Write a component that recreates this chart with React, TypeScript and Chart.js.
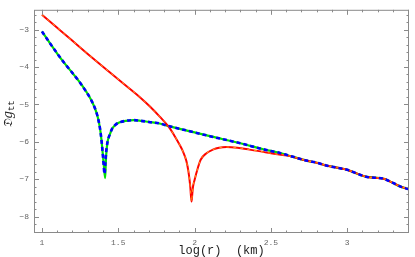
import React, { useEffect, useRef } from "react";
import { Chart, registerables } from "chart.js";

Chart.register(...registerables);

const blueX = [1.0, 1.05, 1.1, 1.15, 1.2, 1.25, 1.29, 1.32, 1.346, 1.365, 1.38, 1.39, 1.398, 1.404, 1.41, 1.415, 1.42, 1.43, 1.445, 1.46, 1.48, 1.51, 1.55, 1.6, 1.65, 1.7, 1.77, 1.83, 1.95, 2.1, 2.3, 2.45, 2.56, 2.61, 2.74, 2.8, 2.87, 2.93, 3.0, 3.07, 3.13, 3.18, 3.24, 3.3, 3.35, 3.4];
const blueY = [-3.05, -3.35, -3.64, -3.91, -4.16, -4.42, -4.66, -4.86, -5.09, -5.33, -5.63, -5.95, -6.3, -6.6, -6.86, -6.6, -6.3, -6.0, -5.8, -5.65, -5.55, -5.48, -5.44, -5.42, -5.44, -5.47, -5.51, -5.58, -5.7, -5.85, -6.04, -6.2, -6.3, -6.36, -6.51, -6.56, -6.64, -6.69, -6.75, -6.86, -6.94, -6.96, -6.99, -7.1, -7.2, -7.26];
const greenX = [1.0, 1.05, 1.1, 1.15, 1.2, 1.25, 1.29, 1.32, 1.346, 1.365, 1.38, 1.39, 1.398, 1.406, 1.414, 1.418, 1.422, 1.43, 1.445, 1.46, 1.48, 1.51, 1.55, 1.6, 1.65, 1.7, 1.77, 1.83, 1.95, 2.1, 2.3, 2.45, 2.56, 2.61, 2.74, 2.8, 2.87, 2.93, 3.0, 3.07, 3.13, 3.18, 3.24, 3.3, 3.35, 3.4];
const greenY = [-3.05, -3.35, -3.64, -3.91, -4.16, -4.42, -4.66, -4.86, -5.09, -5.33, -5.63, -5.95, -6.3, -6.65, -6.97, -6.6, -6.3, -6.0, -5.8, -5.65, -5.55, -5.48, -5.44, -5.42, -5.44, -5.47, -5.51, -5.58, -5.7, -5.85, -6.04, -6.2, -6.3, -6.36, -6.51, -6.56, -6.64, -6.69, -6.75, -6.86, -6.94, -6.96, -6.99, -7.1, -7.2, -7.26];
const redX = [1.0, 1.1, 1.2, 1.3, 1.444, 1.575, 1.64, 1.706, 1.77, 1.832, 1.87, 1.902, 1.925, 1.946, 1.96, 1.972, 1.98, 1.985, 1.99, 2.0, 2.02, 2.04, 2.08, 2.12, 2.16, 2.21, 2.28, 2.36, 2.45, 2.53, 2.61, 2.74, 2.8, 2.87, 2.93, 3.0, 3.07, 3.13, 3.18, 3.24, 3.3, 3.35, 3.4];
const redY = [-2.6, -2.95, -3.3, -3.65, -4.14, -4.58, -4.8, -5.05, -5.32, -5.61, -5.85, -6.08, -6.27, -6.51, -6.8, -7.2, -7.6, -7.4, -7.2, -7.02, -6.72, -6.48, -6.3, -6.21, -6.16, -6.14, -6.16, -6.21, -6.27, -6.33, -6.37, -6.51, -6.56, -6.64, -6.69, -6.75, -6.86, -6.94, -6.96, -6.99, -7.1, -7.2, -7.26];

const xTicks = [1, 1.5, 2, 2.5, 3];
const yTicks = [-3, -4, -5, -6, -7, -8];
const xTitle = "log(r)  (km)";

const X_MIN = 0.948;
const X_MAX = 3.405;
const Y_MIN = -8.44;
const Y_MAX = -2.47;

const pts = (xs: number[], ys: number[]) => xs.map((x, i) => ({ x, y: ys[i] }));

const fmt = (v: number) => {
  const s = String(Math.abs(v));
  return v < 0 ? "\u2212" + s : s;
};

const framePlugin = {
  id: "frame",
  afterDraw(chart: any) {
    const { ctx, chartArea: a, scales } = chart;
    const xs = scales.x;
    const ys = scales.y;
    ctx.save();
    ctx.strokeStyle = "#8a8a8a";
    ctx.lineWidth = 1;
    ctx.strokeRect(a.left + 0.5, a.top + 0.5, a.right - a.left - 1, a.bottom - a.top - 1);
    ctx.beginPath();
    for (let v = 0.9; v <= 3.41; v += 0.1) {
      const vv = Math.round(v * 10) / 10;
      if (vv < X_MIN || vv > X_MAX) continue;
      const major = Math.abs(vv * 2 - Math.round(vv * 2)) < 1e-6;
      const len = major ? 5 : 2.5;
      const px = Math.round(xs.getPixelForValue(vv)) + 0.5;
      ctx.moveTo(px, a.bottom);
      ctx.lineTo(px, a.bottom - len);
      ctx.moveTo(px, a.top);
      ctx.lineTo(px, a.top + len);
    }
    for (let v = -8.4; v <= -2.4; v += 0.2) {
      const vv = Math.round(v * 10) / 10;
      if (vv < Y_MIN || vv > Y_MAX) continue;
      const major = Math.abs(vv - Math.round(vv)) < 1e-6;
      const len = major ? 5 : 2.5;
      const py = Math.round(ys.getPixelForValue(vv)) + 0.5;
      ctx.moveTo(a.left, py);
      ctx.lineTo(a.left + len, py);
      ctx.moveTo(a.right, py);
      ctx.lineTo(a.right - len, py);
    }
    ctx.stroke();

    ctx.fillStyle = "#222";
    ctx.font = "12px 'Liberation Mono', monospace";
    ctx.textAlign = "center";
    ctx.textBaseline = "middle";
    ctx.fillText(xTitle, (a.left + a.right) / 2, 251);

    ctx.translate(9, 114);
    ctx.rotate(-Math.PI / 2);
    ctx.textBaseline = "middle";
    ctx.font = "italic 12px 'DejaVu Serif', serif";
    const main = "\uD835\uDD07g";
    const w1 = ctx.measureText(main).width;
    ctx.font = "9px 'Liberation Mono', monospace";
    const w2 = ctx.measureText("tt").width;
    const start = -(w1 + w2) / 2;
    ctx.textAlign = "left";
    ctx.font = "italic 12px 'DejaVu Serif', serif";
    ctx.fillText(main, start, 0);
    ctx.font = "9px 'Liberation Mono', monospace";
    ctx.fillText("tt", start + w1, 3);
    ctx.restore();
  },
};

export default function App() {
  const ref = useRef<HTMLCanvasElement>(null);
  useEffect(() => {
    if (!ref.current) return;
    const chart = new Chart(ref.current, {
      type: "scatter",
      data: {
        datasets: [
          { data: pts(greenX, greenY), showLine: true, borderColor: "#00e000", borderWidth: 2.2, pointRadius: 0, order: 4 },
          { data: pts(redX, redY), showLine: true, borderColor: "#ff0000", borderWidth: 2, pointRadius: 0, order: 3 },
          { data: pts(redX, redY), showLine: true, borderColor: "#ff9a1a", borderWidth: 1, borderDash: [3, 4], pointRadius: 0, order: 2 },
          { data: pts(blueX, blueY), showLine: true, borderColor: "#0000ff", borderWidth: 2.6, borderDash: [4, 3], pointRadius: 0, order: 1 },
        ],
      },
      options: {
        animation: false,
        responsive: false,
        maintainAspectRatio: false,
        layout: { padding: { left: 0, right: 6, top: 1, bottom: 0 } },
        plugins: { legend: { display: false }, tooltip: { enabled: false } },
        elements: { line: { cubicInterpolationMode: "monotone" } },
        scales: {
          x: {
            type: "linear",
            min: X_MIN,
            max: X_MAX,
            grid: { display: false, tickLength: 0 },
            border: { display: false },
            afterBuildTicks: (s: any) => { s.ticks = xTicks.map((v) => ({ value: v })); },
            afterFit: (s: any) => { s.height = 24; },
            ticks: { font: { family: "'Liberation Mono', monospace", size: 8 }, color: "#666", padding: 5, maxRotation: 0, autoSkip: false, callback: (v: any) => fmt(Number(v)) },
          },
          y: {
            type: "linear",
            min: Y_MIN,
            max: Y_MAX,
            grid: { display: false, tickLength: 0 },
            border: { display: false },
            afterBuildTicks: (s: any) => { s.ticks = yTicks.map((v) => ({ value: v })); },
            afterFit: (s: any) => { s.width = 34; },
            ticks: { font: { family: "'Liberation Mono', monospace", size: 8 }, color: "#666", padding: 5, callback: (v: any) => fmt(Number(v)) },
          },
        },
      },
      plugins: [framePlugin],
    });
    return () => chart.destroy();
  }, []);
  return (
    <div style={{ position: "fixed", left: 0, top: 0, width: 415, height: 257, background: "#fff" }}>
      <canvas ref={ref} width={415} height={257} style={{ display: "block" }} />
    </div>
  );
}
